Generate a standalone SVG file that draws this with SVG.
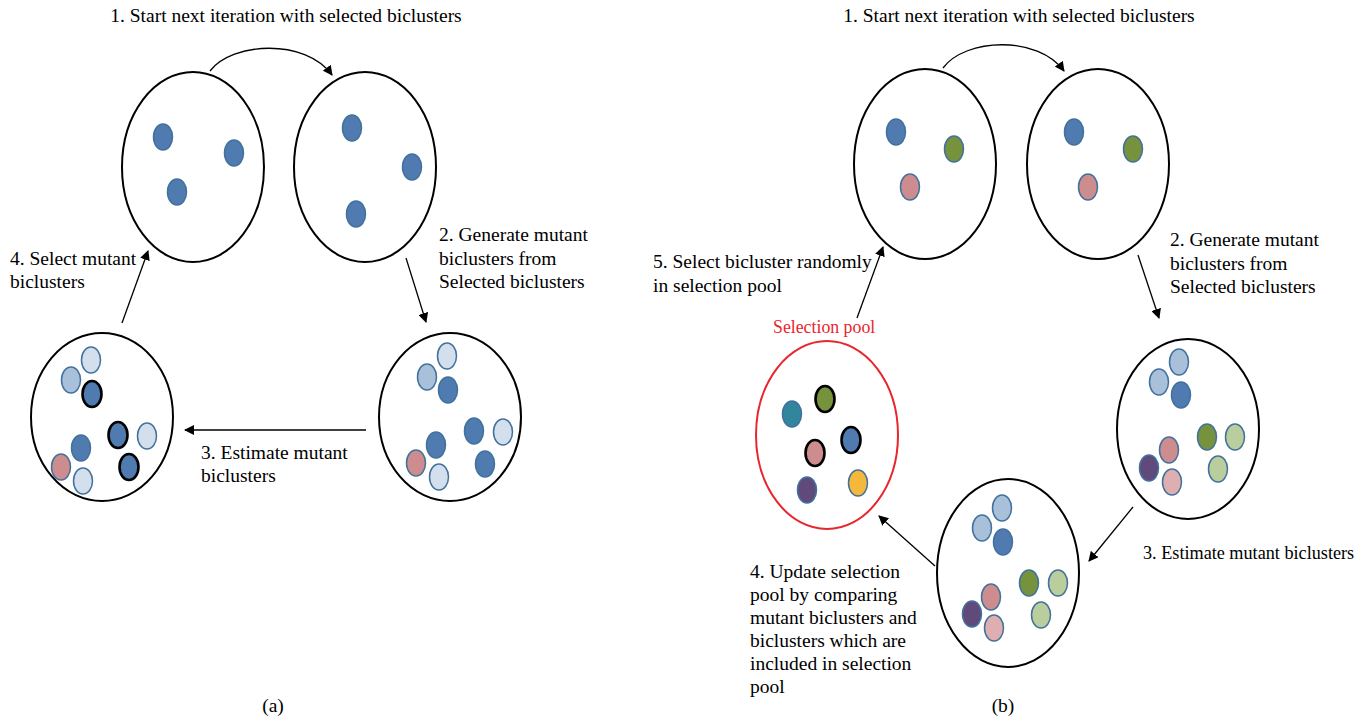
<svg xmlns="http://www.w3.org/2000/svg" width="1368" height="721" viewBox="0 0 1368 721">
<defs>
<marker id="ah" viewBox="0 0 10 10" refX="9" refY="5" markerWidth="10" markerHeight="10" markerUnits="userSpaceOnUse" orient="auto">
<path d="M0,0 L10,5 L0,10 Z" fill="#000"/>
</marker>
</defs>
<style>
.t{font-family:"Liberation Serif","Times New Roman",serif;font-size:19.5px;fill:#000}
.s{font-size:18.2px}
.red{fill:#E8262D;font-size:17.8px}
.big{fill:none;stroke:#000;stroke-width:2}
.pool{fill:none;stroke:#E8262D;stroke-width:2}
.d{stroke:#41719C;stroke-width:1.5}
.k{stroke:#000;stroke-width:2.6}
.c{fill:none;stroke:#000;stroke-width:1.3}
.db{fill:#4F7BB0}.lb{fill:#D3DFEC}.mb{fill:#A9C0DB}.pk{fill:#CD8C8E}.lp{fill:#DEAEB0}
.gr{fill:#76923C}.lg{fill:#B9CE9C}.pu{fill:#604A7B}.te{fill:#31859C}.or{fill:#F6B83A}
</style>
<rect width="1368" height="721" fill="#fff"/>
<g id="a-top-left">
<ellipse class="big" cx="193" cy="167" rx="71" ry="95"/>
<ellipse class="d db" cx="163" cy="137" rx="9.5" ry="13"/>
<ellipse class="d db" cx="234" cy="153" rx="9.5" ry="13"/>
<ellipse class="d db" cx="177" cy="192" rx="9.5" ry="13"/>
</g>
<g id="a-top-right">
<ellipse class="big" cx="365" cy="167" rx="71" ry="95"/>
<ellipse class="d db" cx="352" cy="128" rx="9.5" ry="13"/>
<ellipse class="d db" cx="412" cy="167" rx="9.5" ry="13"/>
<ellipse class="d db" cx="356" cy="214" rx="9.5" ry="13"/>
</g>
<g id="a-bottom-right">
<ellipse class="big" cx="450" cy="417" rx="71" ry="84"/>
<ellipse class="d lb" cx="447" cy="356" rx="9.5" ry="13"/>
<ellipse class="d mb" cx="427" cy="377" rx="9.5" ry="13"/>
<ellipse class="d db" cx="448" cy="390" rx="9.5" ry="13"/>
<ellipse class="d db" cx="474" cy="431" rx="9.5" ry="13"/>
<ellipse class="d lb" cx="503" cy="432" rx="9.5" ry="13"/>
<ellipse class="d db" cx="436" cy="445" rx="9.5" ry="13"/>
<ellipse class="d pk" cx="416" cy="463" rx="9.5" ry="13"/>
<ellipse class="d lb" cx="439" cy="477" rx="9.5" ry="13"/>
<ellipse class="d db" cx="485" cy="464" rx="9.5" ry="13"/>
</g>
<g id="a-bottom-left">
<ellipse class="big" cx="102" cy="417" rx="71" ry="84"/>
<ellipse class="d lb" cx="91" cy="360" rx="9.5" ry="13"/>
<ellipse class="d mb" cx="71" cy="380" rx="9.5" ry="13"/>
<ellipse class="k db" cx="92" cy="394" rx="9.5" ry="13"/>
<ellipse class="k db" cx="118" cy="435" rx="9.5" ry="13"/>
<ellipse class="d lb" cx="147" cy="436" rx="9.5" ry="13"/>
<ellipse class="d db" cx="81" cy="448" rx="9.5" ry="13"/>
<ellipse class="d pk" cx="61" cy="467" rx="9.5" ry="13"/>
<ellipse class="d lb" cx="83" cy="481" rx="9.5" ry="13"/>
<ellipse class="k db" cx="129" cy="467" rx="9.5" ry="13"/>
</g>
<g id="b-top-left">
<ellipse class="big" cx="925" cy="164" rx="71" ry="95"/>
<ellipse class="d db" cx="896" cy="132" rx="9.5" ry="13"/>
<ellipse class="d gr" cx="954" cy="149" rx="9.5" ry="13"/>
<ellipse class="d pk" cx="910" cy="187" rx="9.5" ry="13"/>
</g>
<g id="b-top-right">
<ellipse class="big" cx="1098" cy="164" rx="71" ry="95"/>
<ellipse class="d db" cx="1074" cy="132" rx="9.5" ry="13"/>
<ellipse class="d gr" cx="1133" cy="149" rx="9.5" ry="13"/>
<ellipse class="d pk" cx="1088" cy="187" rx="9.5" ry="13"/>
</g>
<g id="b-mid-right">
<ellipse class="big" cx="1188" cy="429" rx="71" ry="90"/>
<ellipse class="d mb" cx="1179" cy="362" rx="9.5" ry="13"/>
<ellipse class="d mb" cx="1159" cy="382" rx="9.5" ry="13"/>
<ellipse class="d db" cx="1181" cy="395" rx="9.5" ry="13"/>
<ellipse class="d gr" cx="1207" cy="437" rx="9.5" ry="13"/>
<ellipse class="d lg" cx="1235" cy="437" rx="9.5" ry="13"/>
<ellipse class="d pk" cx="1169" cy="450" rx="9.5" ry="13"/>
<ellipse class="d pu" cx="1149" cy="468" rx="9.5" ry="13"/>
<ellipse class="d lp" cx="1172" cy="482" rx="9.5" ry="13"/>
<ellipse class="d lg" cx="1218" cy="469" rx="9.5" ry="13"/>
</g>
<g id="b-bottom">
<ellipse class="big" cx="1008" cy="573" rx="71" ry="94"/>
<ellipse class="d mb" cx="1002" cy="508" rx="9.5" ry="13"/>
<ellipse class="d mb" cx="982" cy="528" rx="9.5" ry="13"/>
<ellipse class="d db" cx="1003" cy="542" rx="9.5" ry="13"/>
<ellipse class="d gr" cx="1029" cy="583" rx="9.5" ry="13"/>
<ellipse class="d lg" cx="1058" cy="583" rx="9.5" ry="13"/>
<ellipse class="d pk" cx="991" cy="597" rx="9.5" ry="13"/>
<ellipse class="d pu" cx="972" cy="614" rx="9.5" ry="13"/>
<ellipse class="d lp" cx="994" cy="628" rx="9.5" ry="13"/>
<ellipse class="d lg" cx="1041" cy="615" rx="9.5" ry="13"/>
</g>
<g id="b-selection-pool">
<ellipse class="pool" cx="827" cy="435" rx="71" ry="94"/>
<ellipse class="d te" cx="792" cy="414" rx="9.5" ry="13"/>
<ellipse class="k gr" cx="825" cy="399" rx="9.5" ry="13"/>
<ellipse class="k db" cx="851" cy="440" rx="9.5" ry="13"/>
<ellipse class="k pk" cx="815" cy="453" rx="9.5" ry="13"/>
<ellipse class="d pu" cx="807" cy="490" rx="9.5" ry="13"/>
<ellipse class="d or" cx="858" cy="483" rx="9.5" ry="13"/>
<text class="t red" x="773" y="333">Selection pool</text>
</g>
<g id="connectors">
<path class="c" d="M210,71 C232,42 305,38 332,75" marker-end="url(#ah)"/>
<path class="c" d="M406,258 L426,322" marker-end="url(#ah)"/>
<path class="c" d="M366,430 L185,430" marker-end="url(#ah)"/>
<path class="c" d="M122,323 L148,251" marker-end="url(#ah)"/>
<path class="c" d="M943,68 C965,38 1038,35 1064,71" marker-end="url(#ah)"/>
<path class="c" d="M1138,255 L1159,318" marker-end="url(#ah)"/>
<path class="c" d="M1133,507 L1089,561" marker-end="url(#ah)"/>
<path class="c" d="M935,566 L879,516" marker-end="url(#ah)"/>
<path class="c" d="M857,318 L883,247" marker-end="url(#ah)"/>
</g>
<g id="labels">
<text class="t" x="286" y="22" text-anchor="middle">1. Start next iteration with selected biclusters</text>
<text class="t" x="439" y="241">2. Generate mutant</text>
<text class="t" x="439" y="265">biclusters from</text>
<text class="t" x="439" y="288">Selected biclusters</text>
<text class="t" x="10" y="265">4. Select mutant</text>
<text class="t" x="10" y="288">biclusters</text>
<text class="t" x="201" y="459">3. Estimate mutant</text>
<text class="t" x="201" y="482">biclusters</text>
<text class="t" x="273" y="712" text-anchor="middle">(a)</text>
<text class="t" x="1019" y="22" text-anchor="middle">1. Start next iteration with selected biclusters</text>
<text class="t" x="1170" y="246">2. Generate mutant</text>
<text class="t" x="1170" y="270">biclusters from</text>
<text class="t" x="1170" y="293">Selected biclusters</text>
<text class="t s" x="1143" y="559">3. Estimate mutant biclusters</text>
<text class="t" x="653" y="268">5. Select bicluster randomly</text>
<text class="t" x="653" y="292">in selection pool</text>
<text class="t" x="750" y="578">4. Update selection</text>
<text class="t" x="750" y="601">pool by comparing</text>
<text class="t" x="750" y="624">mutant biclusters and</text>
<text class="t" x="750" y="647">biclusters which are</text>
<text class="t" x="750" y="670">included in selection</text>
<text class="t" x="750" y="693">pool</text>
<text class="t" x="1003" y="712" text-anchor="middle">(b)</text>
</g>
</svg>
